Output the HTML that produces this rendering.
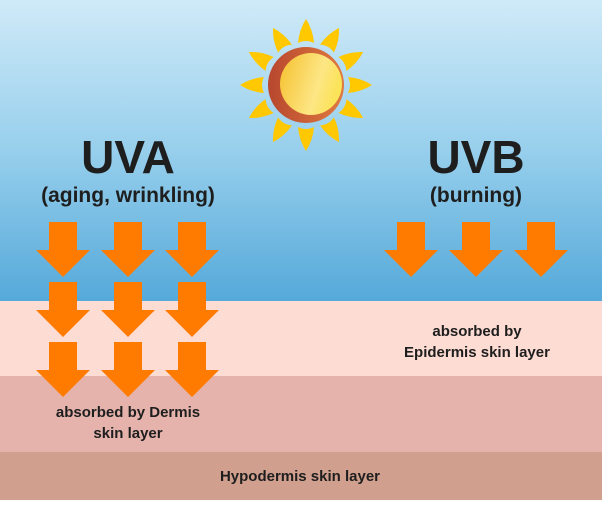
<!DOCTYPE html>
<html><head><meta charset="utf-8"><style>
html,body{margin:0;padding:0;}
body{width:602px;height:500px;overflow:hidden;}
svg text{font-family:"Liberation Sans",sans-serif;font-weight:bold;fill:#1e1e1e;}
</style></head><body>
<svg width="602" height="500" viewBox="0 0 602 500" xmlns="http://www.w3.org/2000/svg">
<defs>
<linearGradient id="sky" x1="0" y1="0" x2="0" y2="1">
<stop offset="0" stop-color="#cfeaf8"/><stop offset="0.5" stop-color="#97cfec"/><stop offset="1" stop-color="#55a9da"/>
</linearGradient>
<linearGradient id="sunin" x1="0" y1="0" x2="1" y2="0.3">
<stop offset="0" stop-color="#f5c02e"/><stop offset="0.7" stop-color="#fde685"/><stop offset="1" stop-color="#fbe35a"/>
</linearGradient>
<linearGradient id="sunout" x1="0" y1="0" x2="1" y2="0">
<stop offset="0" stop-color="#b8472e"/><stop offset="1" stop-color="#df7a40"/>
</linearGradient>
<g id="ar"><polygon points="13,0 41,0 41,28 54,28 27,55 0,28 13,28" fill="#ff7b00"/></g>
<path id="ray" d="M-8,-42 Q-7,-55 0,-66 Q7,-55 8,-42 Q0,-46 -8,-42 Z" fill="#ffc800"/>
</defs>
<rect x="0" y="0" width="602" height="301" fill="url(#sky)"/>
<rect x="0" y="301" width="602" height="75" fill="#fddcd3"/>
<rect x="0" y="376" width="602" height="76" fill="#e5b3ac"/>
<rect x="0" y="452" width="602" height="48" fill="#d19f8e"/>
<g transform="translate(306,85)">
<use href="#ray"/>
<use href="#ray" transform="rotate(30)"/>
<use href="#ray" transform="rotate(60)"/>
<use href="#ray" transform="rotate(90)"/>
<use href="#ray" transform="rotate(120)"/>
<use href="#ray" transform="rotate(150)"/>
<use href="#ray" transform="rotate(180)"/>
<use href="#ray" transform="rotate(210)"/>
<use href="#ray" transform="rotate(240)"/>
<use href="#ray" transform="rotate(270)"/>
<use href="#ray" transform="rotate(300)"/>
<use href="#ray" transform="rotate(330)"/>
<circle r="38" fill="url(#sunout)"/>
<circle cx="5" cy="-1" r="31" fill="url(#sunin)"/>
</g>
<text x="128" y="173" font-size="46" text-anchor="middle">UVA</text>
<text x="128" y="202" font-size="21" text-anchor="middle">(aging, wrinkling)</text>
<text x="476" y="173" font-size="46" text-anchor="middle">UVB</text>
<text x="476" y="202" font-size="21" text-anchor="middle">(burning)</text>
<use href="#ar" x="36" y="222"/><use href="#ar" x="101" y="222"/><use href="#ar" x="165" y="222"/>
<use href="#ar" x="36" y="282"/><use href="#ar" x="101" y="282"/><use href="#ar" x="165" y="282"/>
<use href="#ar" x="36" y="342"/><use href="#ar" x="101" y="342"/><use href="#ar" x="165" y="342"/>
<use href="#ar" x="384" y="222"/><use href="#ar" x="449" y="222"/><use href="#ar" x="514" y="222"/>
<text x="477" y="336" font-size="15" text-anchor="middle">absorbed by</text>
<text x="477" y="357" font-size="15" text-anchor="middle">Epidermis skin layer</text>
<text x="128" y="417" font-size="15" text-anchor="middle">absorbed by Dermis</text>
<text x="128" y="438" font-size="15" text-anchor="middle">skin layer</text>
<text x="300" y="481" font-size="15" text-anchor="middle">Hypodermis skin layer</text>
</svg>
</body></html>
